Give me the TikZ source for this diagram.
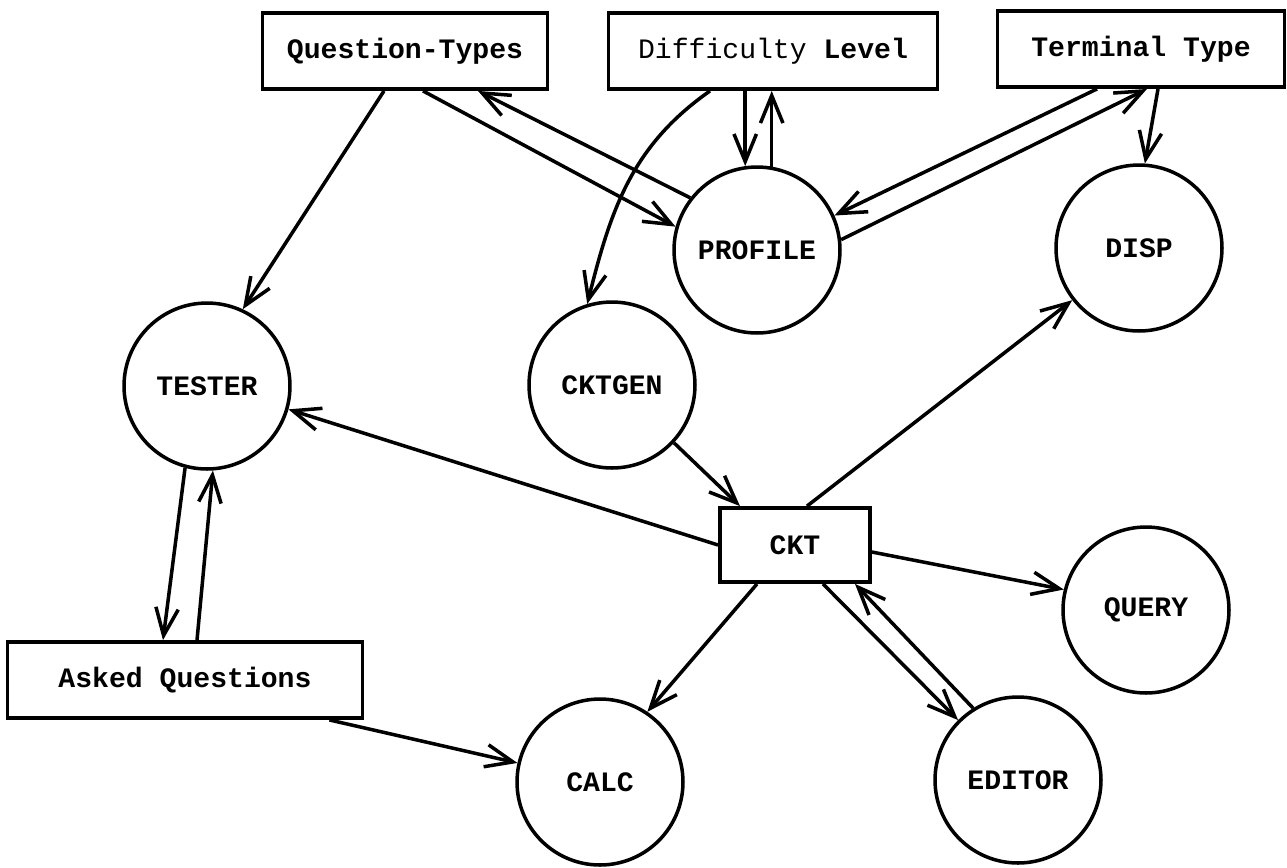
\documentclass[tikz,border=0pt]{standalone}
\usepackage{fontspec}
\setmonofont{Liberation Mono}
\usetikzlibrary{arrows.meta}
\usetikzlibrary{calc}
\tikzset{
  proc/.style={draw,circle,line width=2pt,minimum size=3.32cm,inner sep=0pt,font=\ttfamily\bfseries\fontsize{16}{19}\selectfont},
  store/.style={draw,rectangle,line width=2.2pt,inner sep=0pt,minimum height=1.52cm,font=\ttfamily\fontsize{16}{19}\selectfont},
  flow/.style={line width=2pt,-{Straight Barb[length=5.5mm,width=4.5mm]}}
}
\begin{document}
\begin{tikzpicture}[x=0.02cm,y=-0.02cm]
\useasboundingbox (0,0) rectangle (1287,867);
% stores
\node[store,minimum width=5.7cm] (qtypes) at (405,51) {\bfseries Question-Types};
\node[store,minimum width=6.58cm] (dlevel) at (773,51) {Difficulty \textbf{Level}};
\node[store,minimum width=5.74cm] (ttype) at (1141,49) {\bfseries Terminal Type};
\node[store,minimum width=3cm,minimum height=1.48cm] (ckt) at (795,545) {\bfseries CKT};
\node[store,minimum width=7.1cm] (asked) at (185,680) {\bfseries Asked Questions};
% processes
\foreach \name/\pos/\text in {profile/{(757,250)}/PROFILE, disp/{(1139,248)}/DISP,
  tester/{(207,386)}/TESTER, cktgen/{(612,385)}/CKTGEN, query/{(1146,610)}/QUERY,
  calc/{(600,782)}/CALC, editor/{(1018,780)}/EDITOR}
  \node[proc] (\name) at \pos {\text};
% flows from the top row
\draw[flow] ($(qtypes.south)+(-21,0)$) -- (tester.65);
\draw[flow] ($(qtypes.south)+(18,0)$) -- (profile.164);
\draw[flow] (profile.142) -- ($(qtypes.south)+(73,0)$);
\draw[flow] ($(dlevel.south)+(-63,0)$) to[out=215,in=76] (cktgen.107);
\draw[flow] (profile.98 |- dlevel.south) -- (profile.98);
\draw[flow] (profile.80) -- (profile.80 |- dlevel.south);
\draw[flow] ($(ttype.south)+(-44,0)$) -- (profile.24);
\draw[flow] (profile.7) -- ($(ttype.south)+(6,0)$);
\draw[flow] ($(ttype.south)+(17,0)$) -- (disp.86);
% flows round CKT
\draw[flow] (cktgen.-43) -- ($(ckt.north)+(-55,0)$);
\draw[flow] (ckt.west) -- (tester.-16);
\draw[flow] ($(ckt.north)+(12,0)$) -- (disp.218);
\draw[flow] ($(ckt.east)+(0,7)$) -- (query.166);
\draw[flow] ($(ckt.south)+(-38,0)$) -- (calc.56);
\draw[flow] ($(ckt.south)+(28,0)$) -- (editor.135);
\draw[flow] (editor.122) -- ($(ckt.south)+(60,0)$);
% tester and asked questions
\draw[flow] (tester.255) -- ($(asked.north)+(-22,0)$);
\draw[flow] ($(asked.north)+(12,0)$) -- (tester.274);
\draw[flow] ($(asked.south east)+(-35,0)$) -- (calc.167);
\end{tikzpicture}
\end{document}
